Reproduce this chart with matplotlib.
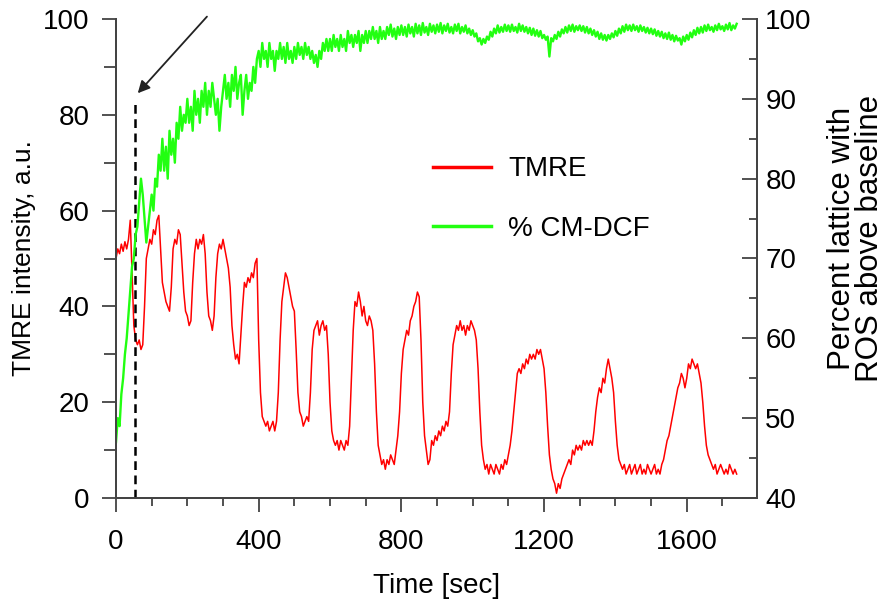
import matplotlib
matplotlib.use("Agg")
import matplotlib.pyplot as plt
from matplotlib.ticker import MultipleLocator, FixedLocator

plt.rcParams['font.family'] = ['Liberation Sans', 'DejaVu Sans']

# samples every 5 s, 0 .. 1740 s
time_sec = list(range(0, 1745, 5))

tmre = [
    50, 52, 51, 53, 51.5, 53.5, 52, 54, 58, 47, 36, 33, 32, 33, 31, 32, 40, 50, 52, 54,
    53, 56, 55, 58, 59, 52, 45, 43, 41, 40, 39, 44, 52, 54, 53, 56, 55, 49, 43, 39,
    38, 36, 37, 45, 51, 54, 52, 54, 53, 55, 51, 43, 38, 37, 35, 38, 46, 51, 53, 52,
    54, 52, 50, 48, 44, 36, 32, 29, 30, 28, 34, 40, 45, 44, 46, 45, 47, 46, 49, 50,
    33, 22, 17, 16, 15, 16, 14, 15, 16, 14, 16, 22, 33, 41, 44, 47, 46, 44, 42, 40,
    39, 31, 22, 18, 17, 15, 16, 17, 16, 22, 31, 35, 36, 37, 34, 36, 37, 35, 36, 30,
    20, 14, 12, 11, 12, 10, 12, 11, 10, 12, 11, 15, 25, 35, 41, 40, 43, 41, 38, 40,
    37, 36, 38, 37, 35, 28, 18, 11, 9, 7, 8, 6, 8, 7, 9, 8, 7, 10, 13, 18,
    26, 31, 33, 35, 34, 37, 38, 40, 41, 43, 42, 33, 20, 13, 10, 7, 8, 12, 11, 13,
    12, 14, 13, 15, 14, 16, 15, 18, 26, 32, 34, 36, 35, 37, 35, 36, 34, 36, 35, 37,
    36, 35, 33, 27, 18, 11, 8, 6, 7, 5, 7, 6, 5, 7, 6, 5, 7, 6, 8, 7,
    9, 11, 14, 18, 22, 26, 27, 26, 28, 27, 29, 28, 30, 29, 30, 29, 31, 30, 31, 29,
    27, 22, 15, 9, 6, 4, 3, 1, 3, 2, 4, 5, 6, 7, 8, 7, 10, 9, 11, 10,
    11, 10, 12, 11, 12, 11, 12, 11, 14, 18, 21, 23, 22, 25, 24, 27, 29, 27, 25, 22,
    16, 11, 8, 7, 6, 7, 5, 6, 7, 5, 6, 7, 5, 6, 7, 5, 6, 5, 7, 6,
    5, 6, 7, 5, 6, 5, 7, 8, 10, 12, 13, 15, 17, 19, 21, 23, 24, 26, 25, 23,
    25, 28, 27, 29, 28, 27, 28, 26, 24, 20, 15, 11, 9, 8, 7, 6, 7, 5, 6, 7,
    6, 5, 6, 5, 7, 6, 5, 6, 5,
]

cmdcf = [
    47, 50, 49, 53, 55, 58, 60, 63, 66, 69, 70, 73, 74, 77, 80, 78, 75, 72, 74, 76,
    78, 76, 80, 79, 83, 81, 85, 81, 84, 80, 86, 83, 85, 82, 87, 85, 89, 86, 88, 87,
    90, 87, 89, 86, 91, 88, 90, 87, 91, 89, 92, 88, 91, 89, 92, 90, 88, 90, 86, 89,
    91, 93, 90, 92, 89, 93, 91, 94, 90, 92, 93, 88, 91, 93, 90, 92, 91, 94, 92, 95,
    96, 94, 97, 95, 96, 94, 97, 95, 96, 93.5, 96, 95, 97, 95, 96.5, 94.5, 97, 95, 96, 94.5,
    96.5, 95, 97, 95.5, 96.5, 95, 97, 95.5, 96.5, 95, 96, 94.5, 95.5, 94, 96, 95, 97, 96, 97.5, 96,
    97.5, 96, 98, 96.5, 97.5, 96, 98, 96.5, 97.5, 96, 98.5, 97, 98, 96.5, 98, 97, 98.5, 96, 98, 97,
    98.5, 97, 98.5, 97.5, 99, 97.5, 98.5, 97, 99, 97.5, 98.5, 97.5, 99, 98, 99.3, 97.8, 98.8, 97.5, 99, 98,
    99.2, 98, 99, 97.8, 99.3, 98.2, 99, 97.8, 99.4, 98.2, 99.2, 98, 99.5, 98.3, 99, 98, 99.4, 98.4, 99.2, 98.2,
    99.3, 98.4, 99.5, 98.2, 99.2, 98.5, 99.4, 98.3, 99, 98.2, 99.3, 98.5, 99.4, 98.2, 99, 98.4, 99.2, 98.2, 98.8, 98,
    98.6, 97.8, 98.2, 97.2, 97.6, 96.8, 97.5, 97, 97.8, 97.4, 98.4, 97.8, 98.8, 98.2, 99.2, 98.3, 99, 98.4, 99.3, 98.5,
    99.2, 98.4, 99.3, 98.5, 99, 98.3, 99.4, 98.5, 99.2, 98.4, 99, 98.2, 98.9, 98, 98.8, 97.9, 98.6, 97.8, 98.5, 97.6,
    98, 97.4, 97.8, 95.3, 97.6, 97.2, 98, 97.5, 98.4, 97.8, 98.7, 98.2, 99, 98.3, 99.2, 98.5, 99.3, 98.4, 99.1, 98.6,
    99.2, 98.5, 99.1, 98.3, 99, 98.2, 98.8, 98, 98.6, 97.8, 98.4, 97.5, 98.2, 97.4, 98, 97.3, 98, 97.5, 98.2, 97.7,
    98.5, 97.9, 98.8, 98.2, 99.1, 98.4, 99.3, 98.6, 99.2, 98.5, 99.3, 98.6, 99.1, 98.4, 99.2, 98.5, 99, 98.3, 98.9, 98.2,
    98.8, 98.1, 98.7, 97.9, 98.5, 97.8, 98.4, 97.6, 98.2, 97.5, 98.3, 97.4, 98, 97.2, 97.9, 97.3, 97.6, 96.8, 97.8, 97.2,
    98, 97.4, 98.3, 97.7, 98.6, 98, 98.9, 98.2, 99, 98.3, 99.2, 98.5, 99.3, 98.6, 99, 98.4, 99.2, 98.6, 99.4, 98.7,
    99.1, 98.5, 99.3, 98.7, 99.5, 98.6, 99.2, 98.8, 99.4,
]

n = min(len(time_sec), len(tmre), len(cmdcf))

x_ticks = [0, 400, 800, 1200, 1600]
x_minor = [100, 200, 300, 500, 600, 700, 900, 1000, 1100, 1300, 1400, 1500, 1700]
left_ticks = [0, 20, 40, 60, 80, 100]
right_ticks = [40, 50, 60, 70, 80, 90, 100]

event_time = 53
event_top = 82.5

fig = plt.figure(figsize=(8.87, 6.05), dpi=100)
ax1 = fig.add_axes([116/887, 1-498/605, (757-116)/887, (498-19)/605])
ax2 = ax1.twinx()

l1, = ax1.plot(time_sec[:n], tmre[:n], color='#ff0000', lw=1.1, label='TMRE')
l2, = ax2.plot(time_sec[:n], cmdcf[:n], color='#22ff11', lw=1.7, label='% CM-DCF')

ax1.set_xlim(0, 1797)
ax1.set_ylim(0, 100)
ax2.set_ylim(40, 100)

fs = 20
ax1.set_xticks(x_ticks, [str(v) for v in x_ticks])
ax1.xaxis.set_minor_locator(FixedLocator(x_minor))
ax1.set_yticks(left_ticks, [str(v) for v in left_ticks])
ax1.yaxis.set_minor_locator(MultipleLocator(10))
ax2.set_yticks(right_ticks, [str(v) for v in right_ticks])
ax2.yaxis.set_minor_locator(MultipleLocator(5))

tick_col = '#333333'
ax1.tick_params(axis='x', which='major', direction='out', length=10, width=1.2,
                labelsize=fs, pad=12, colors=tick_col, labelcolor='black')
ax1.tick_params(axis='x', which='minor', direction='out', length=6, width=1.2, colors=tick_col)
ax1.tick_params(axis='y', which='major', direction='out', length=10, width=1.2,
                labelsize=fs, pad=9, colors=tick_col, labelcolor='black')
ax1.tick_params(axis='y', which='minor', direction='out', length=9, width=1.2, colors=tick_col)
ax2.tick_params(axis='y', which='major', direction='in', length=11, width=1.2,
                labelsize=fs, pad=6, colors=tick_col, labelcolor='black')
ax2.tick_params(axis='y', which='minor', direction='in', length=6, width=1.2, colors=tick_col)

for ax in (ax1, ax2):
    ax.spines['top'].set_visible(False)
    for s in ('left', 'right', 'bottom'):
        ax.spines[s].set_color('#444444')
        ax.spines[s].set_linewidth(1.4)

ax1.set_xlabel('Time [sec]', fontsize=fs, labelpad=13)
ax1.set_ylabel('TMRE intensity, a.u.', fontsize=19, labelpad=5)
fig.text(856/887, 1-238/605, 'Percent lattice with\nROS above baseline', rotation=90,
         fontsize=22.5, ha='center', va='center', linespacing=0.95)

ax1.plot([event_time, event_time], [0, event_top], color='black', lw=1.8,
         ls=(0, (3.5, 2.2)))
ax1.annotate('', xy=(event_time + 8, 84.5), xytext=(255, 100.5),
             xycoords='data', textcoords='data', annotation_clip=False,
             arrowprops=dict(arrowstyle='-|>', color='#222222', lw=1.3,
                             mutation_scale=18, shrinkA=0, shrinkB=0))

ax2.legend([l1, l2], ['TMRE', '% CM-DCF'], frameon=False, fontsize=fs,
           loc='center left', bbox_to_anchor=(419/887, 1-199/605),
           bbox_transform=fig.transFigure, handlelength=2.1, handletextpad=0.6,
           labelspacing=1.2, borderpad=0)
for line in ax2.get_legend().get_lines():
    line.set_linewidth(2.5)

fig.savefig('out.png', dpi=100)
